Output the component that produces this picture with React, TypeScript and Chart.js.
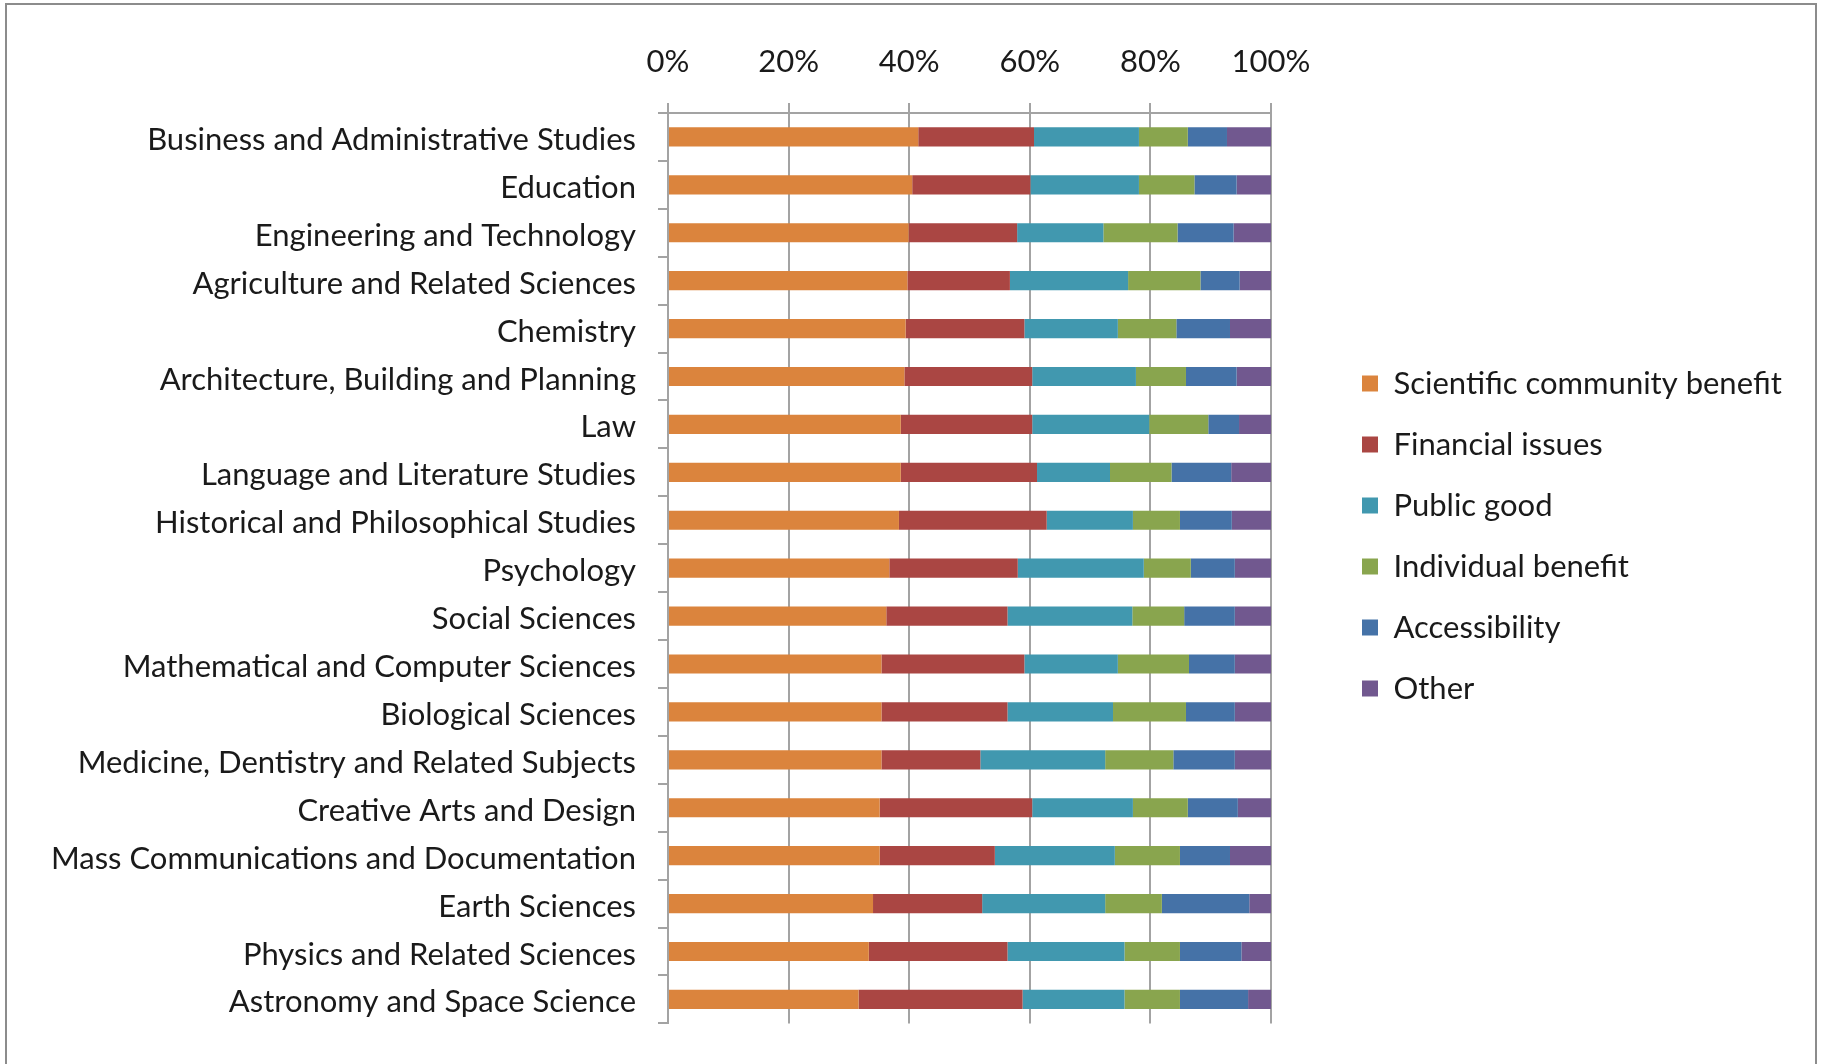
import React, { useEffect, useRef } from 'react';
import { Chart, registerables } from 'chart.js';

Chart.register(...registerables);

const categories = [
  'Business and Administrative Studies',
  'Education',
  'Engineering and Technology',
  'Agriculture and Related Sciences',
  'Chemistry',
  'Architecture, Building and Planning',
  'Law',
  'Language and Literature Studies',
  'Historical and Philosophical Studies',
  'Psychology',
  'Social Sciences',
  'Mathematical and Computer Sciences',
  'Biological Sciences',
  'Medicine, Dentistry and Related Subjects',
  'Creative Arts and Design',
  'Mass Communications and Documentation',
  'Earth Sciences',
  'Physics and Related Sciences',
  'Astronomy and Space Science',
];

const seriesLabels = [
  'Scientific community benefit',
  'Financial issues',
  'Public good',
  'Individual benefit',
  'Accessibility',
  'Other',
];

const scientificCommunityBenefit = [41.5, 40.5, 39.9, 39.7, 39.4, 39.2, 38.6, 38.6, 38.3, 36.7, 36.2, 35.4, 35.4, 35.4, 35.1, 35.1, 34.0, 33.3, 31.6];
const financialIssues = [19.2, 19.6, 18.0, 17.0, 19.7, 21.2, 21.8, 22.6, 24.5, 21.3, 20.1, 23.7, 20.9, 16.4, 25.3, 19.1, 18.1, 23.0, 27.2];
const publicGood = [17.4, 18.0, 14.3, 19.6, 15.5, 17.2, 19.4, 12.1, 14.3, 20.9, 20.7, 15.5, 17.5, 20.7, 16.7, 19.9, 20.4, 19.4, 16.9];
const individualBenefit = [8.1, 9.2, 12.3, 12.0, 9.7, 8.3, 9.8, 10.2, 7.8, 7.8, 8.6, 11.8, 12.1, 11.3, 9.1, 10.8, 9.4, 9.2, 9.2];
const accessibility = [6.5, 7.0, 9.3, 6.5, 8.9, 8.4, 5.1, 9.9, 8.6, 7.3, 8.4, 7.6, 8.1, 10.2, 8.3, 8.3, 14.5, 10.2, 11.3];
const other = [7.3, 5.7, 6.2, 5.2, 6.8, 5.7, 5.3, 6.6, 6.5, 6.0, 6.0, 6.0, 6.0, 6.0, 5.5, 6.8, 3.6, 4.9, 3.8];

const seriesValues = [scientificCommunityBenefit, financialIssues, publicGood, individualBenefit, accessibility, other];
const seriesColors = ['#DB843D', '#AA4643', '#4198AF', '#89A54E', '#4572A7', '#71588F'];

const xTickStep = 20;
const xMax = 100;

const W = 1821;
const H = 1064;
const PLOT_LEFT = 668;
const PLOT_TOP = 113;
const PLOT_RIGHT = 1271;
const PLOT_BOTTOM_PAD = 35;
const FONT_FAMILY = 'Lato';
const FONT_SIZE = 31;
const TEXT_COLOR = '#1a1a1a';
const GRID = '#a3a3a3';
const LEGEND_PAD = 30;
const LEGEND_BOX = 16;
const LEGEND_LEFT = 1332;
const LEGEND_TOP = 338;

export default function App() {
  const ref = useRef<HTMLCanvasElement>(null);

  useEffect(() => {
    const canvas = ref.current!;
    const font = { family: FONT_FAMILY, size: FONT_SIZE };

    const legendPlacer = {
      id: 'legendPlacer',
      beforeLayout(chart: any) {
        const lg = chart.legend;
        if (lg && !lg._patched) {
          const f = lg.fit.bind(lg);
          lg.fit = () => {
            f();
            lg.width = W - PLOT_RIGHT;
          };
          lg._patched = true;
        }
      },
      afterLayout(chart: any) {
        const lg = chart.legend;
        if (lg) {
          const w = lg.width;
          lg.left = LEGEND_LEFT;
          lg.right = LEGEND_LEFT + w;
          const h = lg.height;
          lg.top = LEGEND_TOP;
          lg.bottom = LEGEND_TOP + h;
        }
      },
    };

    const chart = new Chart(canvas, {
      type: 'bar',
      data: {
        labels: categories,
        datasets: seriesValues.map((d, i) => ({
          label: seriesLabels[i],
          data: d,
          backgroundColor: seriesColors[i],
          borderWidth: 0,
          barPercentage: 0.4,
          categoryPercentage: 1,
        })),
      },
      options: {
        indexAxis: 'y',
        animation: false,
        responsive: false,
        maintainAspectRatio: false,
        devicePixelRatio: 1,
        layout: { padding: { left: 0, top: 0, right: 0, bottom: PLOT_BOTTOM_PAD } },
        plugins: {
          legend: {
            position: 'right',
            align: 'start',
            labels: {
              boxWidth: LEGEND_BOX,
              boxHeight: LEGEND_BOX,
              padding: LEGEND_PAD,
              font,
              color: TEXT_COLOR,
            },
          },
          tooltip: { enabled: false },
        },
        scales: {
          x: {
            type: 'linear',
            position: 'top',
            stacked: true,
            min: 0,
            max: xMax,
            ticks: {
              stepSize: xTickStep,
              callback: (v: any) => `${v}%`,
              font,
              color: TEXT_COLOR,
              padding: 22,
            },
            grid: { color: GRID, lineWidth: 2, tickLength: 10, drawTicks: true },
            border: { display: true, color: GRID, width: 2 },
            afterFit: (s: any) => {
              s.height = PLOT_TOP;
            },
          },
          y: {
            type: 'category',
            stacked: true,
            ticks: { font, color: TEXT_COLOR, padding: 22, autoSkip: false, labelOffset: 3 },
            grid: { drawOnChartArea: false, tickLength: 10, color: GRID, lineWidth: 2, offset: true },
            border: { display: true, color: GRID, width: 2 },
            afterFit: (s: any) => {
              s.width = PLOT_LEFT;
            },
          },
        },
      } as any,
      plugins: [legendPlacer],
    });

    return () => chart.destroy();
  }, []);

  return (
    <div style={{ position: 'fixed', left: 0, top: 0, width: W, height: H, overflow: 'hidden', background: '#fff' }}>
      <canvas ref={ref} width={W} height={H} style={{ display: 'block', width: W, height: H }} />
      <div
        style={{
          position: 'absolute',
          left: 5,
          top: 3,
          width: 1812,
          height: 1100,
          border: '2px solid #8c8c8c',
          boxSizing: 'border-box',
          pointerEvents: 'none',
        }}
      />
    </div>
  );
}
